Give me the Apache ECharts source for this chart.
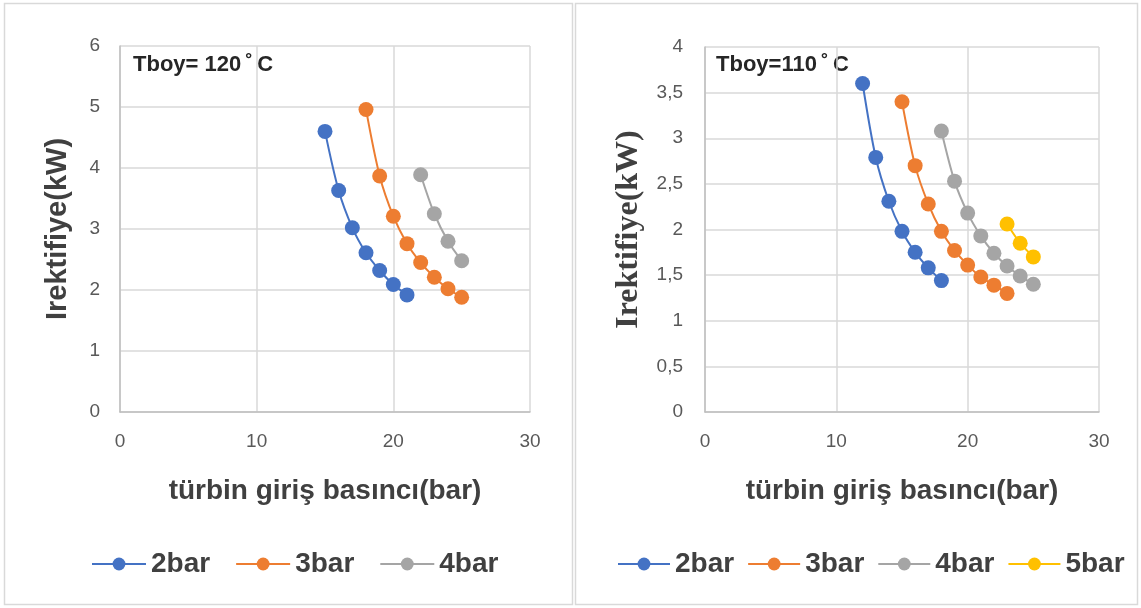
<!DOCTYPE html>
<html><head><meta charset="utf-8">
<script src="https://cdn.jsdelivr.net/npm/echarts@6/dist/echarts.min.js"></script>
<style>html,body{margin:0;padding:0;background:#fff}#c{width:1141px;height:608px}</style>
</head><body><div id="c"></div>
<script>
// Left chart (Tboy = 120 °C)
const L_2bar_x = [15,16,17,18,19,20,21];
const L_2bar_y = [4.60,3.63,3.02,2.61,2.32,2.09,1.92];
const L_3bar_x = [18,19,20,21,22,23,24,25];
const L_3bar_y = [4.96,3.87,3.21,2.76,2.45,2.21,2.02,1.88];
const L_4bar_x = [22,23,24,25];
const L_4bar_y = [3.89,3.25,2.80,2.48];
// Right chart (Tboy = 110 °C)
const R_2bar_x = [12,13,14,15,16,17,18];
const R_2bar_y = [3.60,2.79,2.31,1.98,1.75,1.58,1.44];
const R_3bar_x = [15,16,17,18,19,20,21,22,23];
const R_3bar_y = [3.40,2.70,2.28,1.98,1.77,1.61,1.48,1.39,1.30];
const R_4bar_x = [18,19,20,21,22,23,24,25];
const R_4bar_y = [3.08,2.53,2.18,1.93,1.74,1.60,1.49,1.40];
const R_5bar_x = [23,24,25];
const R_5bar_y = [2.06,1.85,1.70];
const seriesNames = ['2bar','3bar','4bar','5bar'];
const colors = ['#4472C4','#ED7D31','#A5A5A5','#FFC000'];

const zip = (xs, ys) => xs.map((x, i) => [x, ys[i]]);
const gridColor = '#d9d9d9';
const tickFont = {color:'#595959', fontSize:19, fontFamily:'Liberation Sans, sans-serif'};

function mkSeries(name, data, idx, colorIdx) {
  return {
    name, type:'line', data, xAxisIndex:idx, yAxisIndex:idx, smooth:0.3,
    symbol:'circle', symbolSize:15,
    lineStyle:{color:colors[colorIdx], width:2},
    itemStyle:{color:colors[colorIdx]}, z: 3
  };
}

function xAx(idx) {
  return {
    type:'value', gridIndex:idx, min:0, max:30, interval:10,
    axisLine:{show:true, lineStyle:{color:'#bfbfbf', width:1.5}},
    axisTick:{show:false},
    splitLine:{show:true, lineStyle:{color:gridColor, width:1.5}},
    axisLabel:Object.assign({margin:20}, tickFont),
    name:'türbin giriş basıncı(bar)', nameLocation:'middle', nameGap:65,
    nameTextStyle:{fontSize:28, fontWeight:'bold', color:'#404040', fontFamily:'Liberation Sans, sans-serif'}
  };
}

const legendText = {fontSize:28, fontWeight:'bold', color:'#404040', fontFamily:'Liberation Sans, sans-serif'};

const option = {
  animation:false,
  backgroundColor:'#fff',
  grid:[
    {left:120, top:46, width:410, height:366},
    {left:705, top:47, width:394, height:365}
  ],
  xAxis:[xAx(0), xAx(1)],
  yAxis:[
    {type:'value', gridIndex:0, min:0, max:6, interval:1,
     axisLine:{show:true, lineStyle:{color:'#bfbfbf', width:1.5}}, axisTick:{show:false},
     splitLine:{show:true, lineStyle:{color:gridColor, width:1.5}},
     axisLabel:Object.assign({margin:20}, tickFont),
     name:'Irektifiye(kW)', nameLocation:'middle', nameGap:48,
     nameTextStyle:{fontSize:29, fontWeight:'bold', color:'#404040', fontFamily:'Liberation Sans, sans-serif'}},
    {type:'value', gridIndex:1, min:0, max:4, interval:0.5,
     axisLine:{show:true, lineStyle:{color:'#bfbfbf', width:1.5}}, axisTick:{show:false},
     splitLine:{show:true, lineStyle:{color:gridColor, width:1.5}},
     axisLabel:Object.assign({margin:22, formatter:v => String(v).replace('.', ',')}, tickFont),
     name:'Irektifiye(kW)', nameLocation:'middle', nameGap:60,
     nameTextStyle:{fontSize:32, fontWeight:'bold', color:'#404040', fontFamily:'Liberation Serif, serif'}}
  ],
  legend:[
    {data:['2bar','3bar','4bar'], left:91, top:550, padding:0, itemWidth:54, itemHeight:16, itemGap:25,
     textStyle:legendText},
    {data:['2bar','3bar','4bar','5bar'], left:617, top:550, padding:0, itemWidth:52, itemHeight:16, itemGap:13,
     textStyle:legendText}
  ],
  series:[
    mkSeries('2bar', zip(L_2bar_x, L_2bar_y), 0, 0),
    mkSeries('3bar', zip(L_3bar_x, L_3bar_y), 0, 1),
    mkSeries('4bar', zip(L_4bar_x, L_4bar_y), 0, 2),
    mkSeries('2bar', zip(R_2bar_x, R_2bar_y), 1, 0),
    mkSeries('3bar', zip(R_3bar_x, R_3bar_y), 1, 1),
    mkSeries('4bar', zip(R_4bar_x, R_4bar_y), 1, 2),
    mkSeries('5bar', zip(R_5bar_x, R_5bar_y), 1, 3)
  ],
  graphic:[
    {type:'rect', shape:{x:4.5, y:3.5, width:568, height:601}, style:{fill:'none', stroke:'#d9d9d9', lineWidth:1.5}, silent:true},
    {type:'rect', shape:{x:575.5, y:3.5, width:562, height:601}, style:{fill:'none', stroke:'#d9d9d9', lineWidth:1.5}, silent:true},
    {type:'text', left:133, top:54, style:{text:'Tboy= 120\u2009˚\u2009C', font:'bold 22px Liberation Sans, sans-serif', fill:'#262626'}},
    {type:'text', left:716, top:54, style:{text:'Tboy=110\u2009˚\u2009C', font:'bold 22px Liberation Sans, sans-serif', fill:'#262626'}}
  ]
};
const chart = echarts.init(document.getElementById('c'), null, {renderer:'canvas'});
chart.setOption(option);
</script></body></html>
